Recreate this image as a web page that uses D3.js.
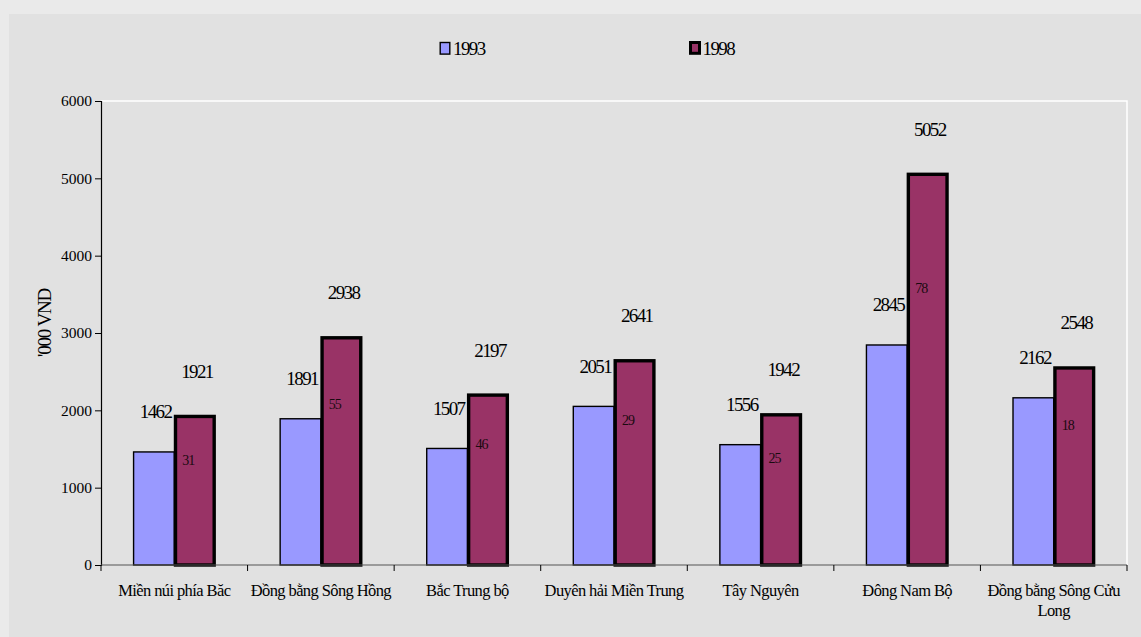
<!DOCTYPE html>
<html>
<head>
<meta charset="utf-8">
<script src="https://cdn.jsdelivr.net/npm/d3@7"></script>
<style>
  html, body { margin: 0; padding: 0; background: #eaeaea; }
  svg { display: block; }
  svg text { font-family: "Liberation Serif", "DejaVu Serif", serif !important; }
</style>
</head>
<body>
<svg id="chart" width="1141" height="637"></svg>
<script>
const categories = ["Miền núi phía Băc", "Đồng bằng Sông Hồng", "Bắc Trung bộ", "Duyên hải Miền Trung", "Tây Nguyên", "Đông Nam Bộ", "Đồng bằng Sông Cửu Long"];
const seriesNames = ["1993", "1998"];
const values1993 = [1462, 1891, 1507, 2051, 1556, 2845, 2162];
const values1998 = [1921, 2938, 2197, 2641, 1942, 5052, 2548];
const growthLabels = ["31", "55", "46", "29", "25", "78", "18"];
const yTicks = [0, 1000, 2000, 3000, 4000, 5000, 6000];
const yTitle = "'000 VND";

const W = 1141, H = 637;
const SERIF = '"Liberation Serif", "DejaVu Serif", serif';
const svg = d3.select("#chart");

svg.append("rect").attr("x", 0).attr("y", 0).attr("width", W).attr("height", H).attr("fill", "#eaeaea");
svg.append("rect").attr("x", 9).attr("y", 14).attr("width", W - 9).attr("height", H - 14).attr("fill", "#e1e1e1");

const plot = { left: 101, right: 1127, top: 101, bottom: 565 };

const x0 = d3.scaleBand().domain(categories).range([plot.left, plot.right]).paddingInner(0).paddingOuter(0);
const x1 = d3.scaleBand().domain(seriesNames).range([0, x0.bandwidth()]).paddingInner(0).paddingOuter(0.77);
const y = d3.scaleLinear().domain([0, 6000]).range([plot.bottom, plot.top]);

const colors = { "1993": "#9999ff", "1998": "#993366" };
const strokes = { "1993": 1.4, "1998": 3.4 };

svg.append("path")
  .attr("d", `M${plot.left},${plot.top}H${plot.right}V${plot.bottom}`)
  .attr("fill", "none").attr("stroke", "#ffffff").attr("stroke-width", 1.5);

const rows = categories.map((c, i) => ({ cat: c, i, v: { "1993": values1993[i], "1998": values1998[i] } }));

const g = svg.append("g");
rows.forEach(r => {
  seriesNames.forEach(s => {
    const sw = strokes[s];
    const bx = x0(r.cat) + x1(s);
    const by = y(r.v[s]);
    g.append("rect")
      .attr("x", bx + sw / 2 - (s === "1998" ? 0.5 : 0))
      .attr("y", by)
      .attr("width", x1.bandwidth() - sw / 2 - (s === "1998" ? 1 : 0))
      .attr("height", y(0) - by)
      .attr("fill", colors[s])
      .attr("stroke", "#000")
      .attr("stroke-width", sw);
  });
});

const yAxis = d3.axisLeft(y).tickValues(yTicks).tickSize(6).tickPadding(3).tickFormat(d3.format("d"));
const ya = svg.append("g").attr("transform", `translate(${plot.left},0)`).call(yAxis);
ya.attr("font-family", null);
ya.select(".domain").attr("stroke", "#000").attr("stroke-width", 1.2);
ya.selectAll(".tick line").attr("stroke", "#000");
ya.selectAll(".tick text").style("font-family", SERIF).style("font-size", "15.5px").attr("fill", "#000");

const boundaries = categories.map(c => x0(c)).concat([plot.right]);
svg.append("line").attr("x1", plot.left).attr("x2", plot.right).attr("y1", plot.bottom).attr("y2", plot.bottom)
  .attr("stroke", "#555").attr("stroke-width", 1.2);
svg.append("g").selectAll("line").data(boundaries).join("line")
  .attr("x1", d => d).attr("x2", d => d).attr("y1", plot.bottom).attr("y2", plot.bottom + 6)
  .attr("stroke", "#000").attr("stroke-width", 1);

const catG = svg.append("g");
rows.forEach(r => {
  const cx = x0(r.cat) + x0.bandwidth() / 2;
  const t = catG.append("text").attr("x", cx).attr("y", 596).attr("text-anchor", "middle")
    .style("font-family", SERIF).style("font-size", "16.5px").attr("letter-spacing", "-0.6px").attr("fill", "#000");
  const words = r.cat.split(" ");
  let line = [];
  let tspan = t.append("tspan").attr("x", cx).attr("dy", 0);
  words.forEach(w => {
    line.push(w);
    tspan.text(line.join(" "));
    if (tspan.node().getComputedTextLength() > x0.bandwidth() - 4 && line.length > 1) {
      line.pop();
      tspan.text(line.join(" "));
      line = [w];
      tspan = t.append("tspan").attr("x", cx).attr("dy", 20).text(w);
    }
  });
});

const lab = svg.append("g");
rows.forEach(r => {
  seriesNames.forEach(s => {
    const cx = x0(r.cat) + x1(s) + x1.bandwidth() / 2 + 2;
    const off = s === "1993" ? 40 : 45;
    lab.append("text").attr("x", cx).attr("y", y(r.v[s]) - off + 6.5)
      .attr("text-anchor", "middle").style("font-family", SERIF).style("font-size", "19px").attr("letter-spacing", "-1.6px")
      .attr("fill", "#000").text(r.v[s]);
  });
  const bx = x0(r.cat) + x1("1998");
  lab.append("text").attr("x", bx + 8).attr("y", y(r.v["1998"] * 0.71) + 5)
    .style("font-family", SERIF).style("font-size", "14px").attr("letter-spacing", "-1px").attr("fill", "#1a0a10").text(growthLabels[r.i]);
});

svg.append("text").attr("transform", `translate(51,323) rotate(-90)`).attr("text-anchor", "middle")
  .style("font-family", SERIF).style("font-size", "19px").attr("letter-spacing", "-1.2px").attr("fill", "#000").text(yTitle);

const leg = svg.append("g");
const legX = [439.5, 689];
seriesNames.forEach((s, i) => {
  if (s === "1993") {
    leg.append("rect").attr("x", legX[i] + 0.7).attr("y", 42.5).attr("width", 9.6).attr("height", 11.6)
      .attr("fill", colors[s]).attr("stroke", "#000").attr("stroke-width", 1.4);
  } else {
    leg.append("rect").attr("x", legX[i] + 1.5).attr("y", 42.5).attr("width", 9).attr("height", 10.8)
      .attr("fill", colors[s]).attr("stroke", "#000").attr("stroke-width", 3);
  }
  leg.append("text").attr("x", legX[i] + 13.5).attr("y", 54.5).style("font-family", SERIF).style("font-size", "19px").attr("letter-spacing", "-1.6px")
    .attr("fill", "#000").text(s);
});
</script>
</body>
</html>
